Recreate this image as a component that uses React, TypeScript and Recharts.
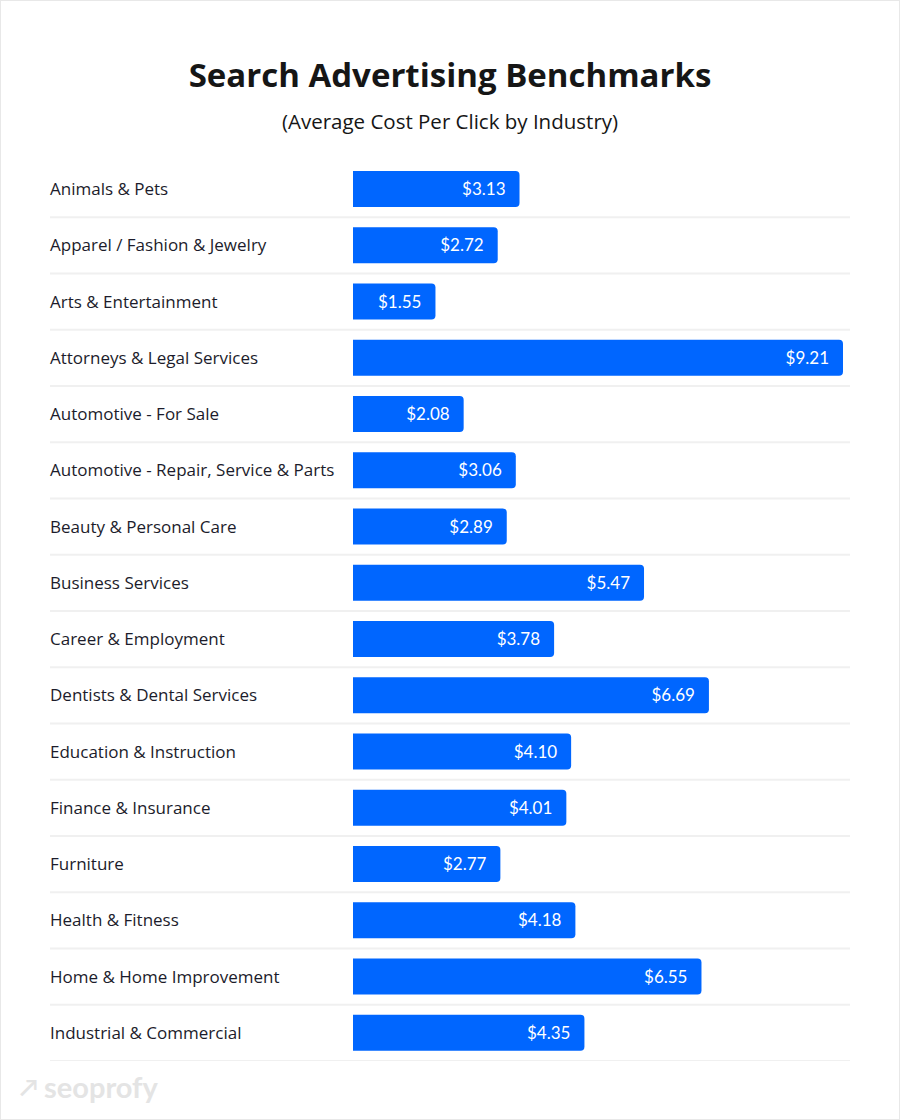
import React from 'react';
import { BarChart, Bar, XAxis, YAxis, LabelList } from 'recharts';

const industries = [
  'Animals & Pets',
  'Apparel / Fashion & Jewelry',
  'Arts & Entertainment',
  'Attorneys & Legal Services',
  'Automotive - For Sale',
  'Automotive - Repair, Service & Parts',
  'Beauty & Personal Care',
  'Business Services',
  'Career & Employment',
  'Dentists & Dental Services',
  'Education & Instruction',
  'Finance & Insurance',
  'Furniture',
  'Health & Fitness',
  'Home & Home Improvement',
  'Industrial & Commercial',
];

const cpc = [3.13, 2.72, 1.55, 9.21, 2.08, 3.06, 2.89, 5.47, 3.78, 6.69, 4.1, 4.01, 2.77, 4.18, 6.55, 4.35];

const data = industries.map((name, i) => ({ name, cpc: cpc[i] }));

const FONT = '"Open Sans", Lato, sans-serif';
const VALUE_FONT = 'Lato, sans-serif';

// category label on the left + the row separator under it
const IndustryTick = (props: any) => {
  const { y, payload } = props;
  return (
    <g>
      <text x={50} y={y} dy={6} textAnchor="start" fontSize={17} fontWeight={500} fill="#1c1c2b" fontFamily={FONT}>
        {payload.value}
      </text>
      <line x1={50} x2={850} y1={y + 28} y2={y + 28} stroke="#f0f0f0" strokeWidth={2} />
    </g>
  );
};

const App = () => {
  return (
    <div
      style={{
        position: 'absolute',
        left: 0,
        top: 0,
        width: 900,
        height: 1120,
        boxSizing: 'border-box',
        border: '1px solid #e8e8e8',
        background: '#fff',
        fontFamily: FONT,
      }}
    >
      <div
        style={{
          position: 'absolute',
          top: 51,
          width: '100%',
          textAlign: 'center',
          fontSize: 33,
          fontWeight: 700,
          color: '#161616',
        }}
      >
        Search Advertising Benchmarks
      </div>
      <div
        style={{
          position: 'absolute',
          top: 106,
          width: '100%',
          textAlign: 'center',
          fontSize: 20.5,
          fontWeight: 500,
          color: '#161616',
        }}
      >
        (Average Cost Per Click by Industry)
      </div>

      <div style={{ position: 'absolute', top: 160, left: -1 }}>
        <BarChart
          width={900}
          height={900}
          data={data}
          layout="vertical"
          margin={{ top: 0, right: 57, bottom: 0, left: 0 }}
        >
          <XAxis type="number" domain={[0, 9.21]} hide />
          <YAxis
            type="category"
            dataKey="name"
            width={353}
            axisLine={false}
            tickLine={false}
            tick={<IndustryTick />}
            interval={0}
          />
          <Bar dataKey="cpc" fill="#0066ff" barSize={36} radius={[0, 4, 4, 0]} isAnimationActive={false}>
            <LabelList
              dataKey="cpc"
              position="insideRight"
              offset={14}
              fill="#ffffff"
              fontSize={17}
              fontFamily={VALUE_FONT}
              formatter={(v: any) => `$${Number(v).toFixed(2)}`}
            />
          </Bar>
        </BarChart>
      </div>

      <div
        style={{
          position: 'absolute',
          left: 19,
          top: 1068,
          display: 'flex',
          alignItems: 'center',
          gap: 6,
          color: '#e4e4e4',
          fontSize: 29,
          fontWeight: 700,
          fontFamily: VALUE_FONT,
        }}
      >
        <span style={{ fontSize: 24 }}>↗</span>
        <span>seoprofy</span>
      </div>
    </div>
  );
};

export default App;
